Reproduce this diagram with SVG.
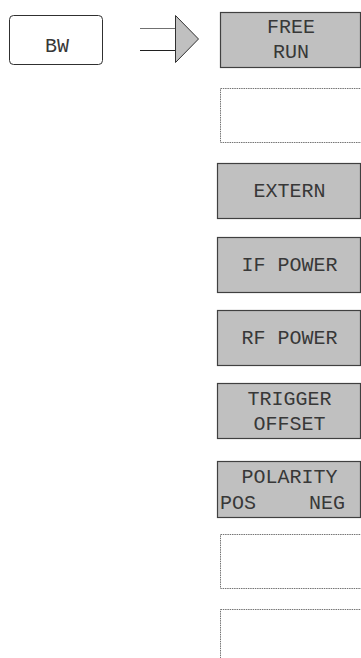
<svg xmlns="http://www.w3.org/2000/svg" width="361" height="658" viewBox="0 0 361 658">
<style>
.key{fill:#c0c0c0;stroke:#404040;stroke-width:1.2}
.empty{fill:#ffffff;stroke:#505050;stroke-width:0.8;stroke-dasharray:1.5 0.8}
.bw{fill:#ffffff;stroke:#303030;stroke-width:1}
text{font-family:"Liberation Mono","Courier New",monospace;font-size:20px;fill:#383838;text-anchor:middle}
</style>
<rect width="361" height="658" fill="#ffffff"/>
<g id="bw">
<rect class="bw" x="9.5" y="15.5" width="93" height="49" rx="4"/>
<text x="57" y="52">BW</text>
</g>
<g id="connectors">
<line x1="140" y1="28.5" x2="176" y2="28.5" stroke="#707070" stroke-width="1"/>
<line x1="140" y1="50.5" x2="176" y2="50.5" stroke="#202020" stroke-width="1"/>
<polygon points="175.5,15.5 198.5,39 175.5,62.5" fill="#c0c0c0" stroke="#303030" stroke-width="1"/>
</g>
<g id="free-run">
<rect class="key" x="220.5" y="12.5" width="140" height="55"/>
<text x="291" y="33">FREE</text>
<text x="291" y="58">RUN</text>
</g>
<g id="empty1">
<rect class="empty" x="220.5" y="88.5" width="145" height="54"/>
</g>
<g id="extern">
<rect class="key" x="217.5" y="163.5" width="143" height="55"/>
<text x="289.5" y="197">EXTERN</text>
</g>
<g id="if-power">
<rect class="key" x="217.5" y="237.5" width="143" height="55"/>
<text x="289.5" y="271">IF POWER</text>
</g>
<g id="rf-power">
<rect class="key" x="217.5" y="310.5" width="143" height="55"/>
<text x="289.5" y="344">RF POWER</text>
</g>
<g id="trigger-offset">
<rect class="key" x="217.5" y="383.5" width="143" height="55"/>
<text x="289.5" y="405">TRIGGER</text>
<text x="289.5" y="430">OFFSET</text>
</g>
<g id="polarity">
<rect class="key" x="217.5" y="461.5" width="143" height="56"/>
<text x="289.5" y="483">POLARITY</text>
<text x="238" y="509">POS</text>
<text x="327" y="509">NEG</text>
</g>
<g id="empty2">
<rect class="empty" x="220.5" y="534.5" width="145" height="54"/>
</g>
<g id="empty3">
<rect class="empty" x="220.5" y="609.5" width="145" height="60"/>
</g>
</svg>
